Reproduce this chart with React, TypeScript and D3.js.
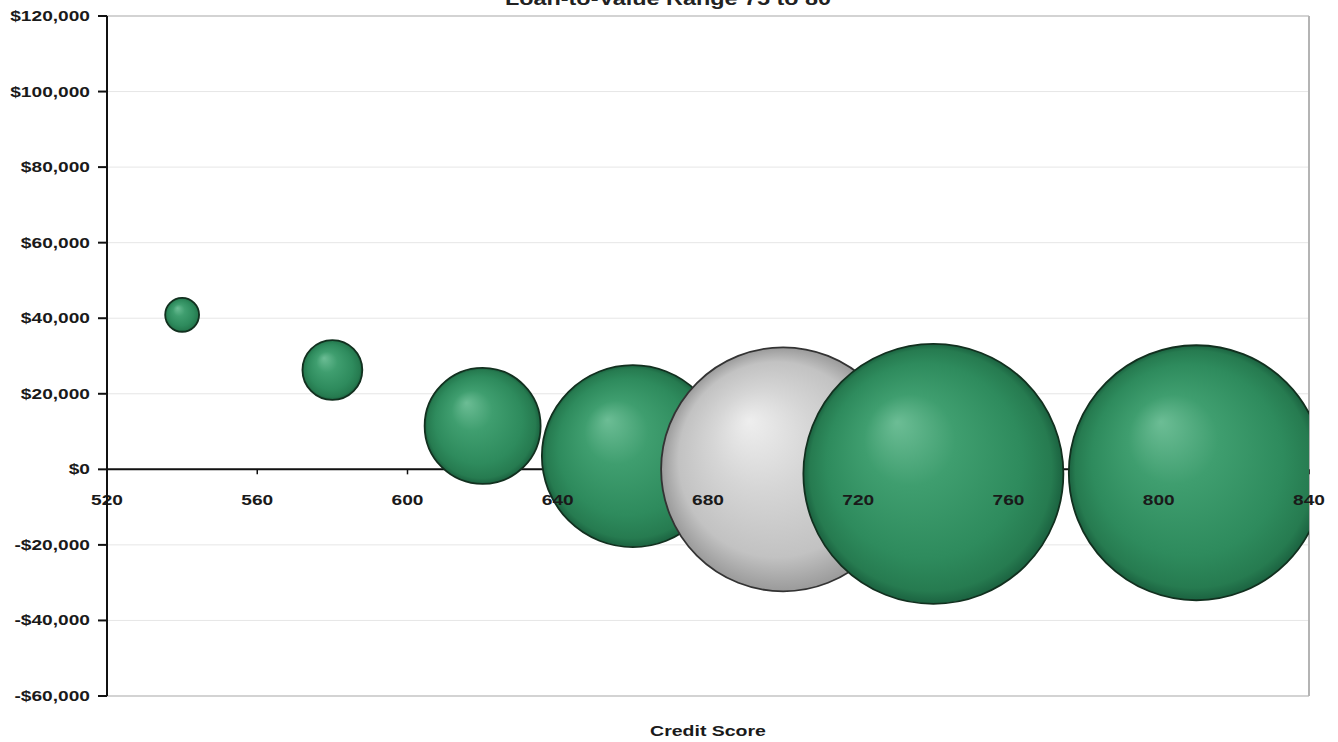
import React from "react";
import * as d3 from "d3";

// Average loss per loan by credit score band; bubble area = number of loans
const creditScores = [540, 580, 620, 660, 700, 740, 810];
const avgLoss = [40900, 26300, 11500, 3500, 0, -1200, -900];
const loanCounts = [170, 530, 1990, 4900, 8810, 10000, 9620];
const highlightScore = 700;

const xTicks = [520, 560, 600, 640, 680, 720, 760, 800, 840];
const yTicks = [-60000, -40000, -20000, 0, 20000, 40000, 60000, 80000, 100000, 120000];

const chartTitle = "Loan-to-Value Range 75 to 80";
const xTitle = "Credit Score";

const W = 1338;
const H = 742;
const left = 107;
const right = 1309;
const top = 16;
const bottom = 696;
const FONT = "'Liberation Sans', Arial, sans-serif";
const SX = 1.32;

const fmtMoney = (v: number) => (v < 0 ? "-$" : "$") + d3.format(",")(Math.abs(v));

export default function App() {
  const x = d3.scaleLinear().domain([520, 840]).range([left, right]);
  const y = d3.scaleLinear().domain([-60000, 120000]).range([bottom, top]);
  const r = d3.scaleSqrt().domain([0, 10000]).range([0, 130]);

  const bubbles = creditScores.map((s, i) => ({
    score: s,
    loss: avgLoss[i],
    count: loanCounts[i],
  }));

  const y0 = y(0);

  return (
    <svg
      width={W}
      height={H}
      style={{ position: "absolute", left: 0, top: 0, display: "block", background: "#fff" }}
    >
      <defs>
        <radialGradient id="gGreen" cx="50%" cy="50%" r="50%" fx="36%" fy="30%">
          <stop offset="0%" stopColor="#6cbd95" />
          <stop offset="35%" stopColor="#3f9e6f" />
          <stop offset="75%" stopColor="#2e8b5d" />
          <stop offset="93%" stopColor="#267b50" />
          <stop offset="100%" stopColor="#1b6240" />
        </radialGradient>
        <radialGradient id="gGray" cx="50%" cy="50%" r="50%" fx="36%" fy="30%">
          <stop offset="0%" stopColor="#eeeeee" />
          <stop offset="40%" stopColor="#d6d6d6" />
          <stop offset="80%" stopColor="#c2c2c2" />
          <stop offset="100%" stopColor="#9a9a9a" />
        </radialGradient>
        <clipPath id="plotClip">
          <rect x={left} y={top} width={right - left} height={bottom - top} />
        </clipPath>
      </defs>

      {/* horizontal gridlines */}
      {yTicks.map((t) => (
        <line
          key={"g" + t}
          x1={left}
          x2={right}
          y1={y(t)}
          y2={y(t)}
          stroke={t === 120000 || t === -60000 ? "#c4c4c4" : "#e6e6e6"}
          strokeWidth={t === 120000 || t === -60000 ? 1.5 : 1}
        />
      ))}
      {/* plot frame, right side */}
      <line x1={right} x2={right} y1={top} y2={bottom} stroke="#b4b4b4" strokeWidth={2} />

      {/* horizontal axis at zero */}
      <line x1={left} x2={right} y1={y0} y2={y0} stroke="#111" strokeWidth={2} />
      {xTicks.map((t) => (
        <line key={"xt" + t} x1={x(t)} x2={x(t)} y1={y0} y2={y0 + 5} stroke="#111" strokeWidth={1.5} />
      ))}

      {/* bubbles */}
      <g clipPath="url(#plotClip)">
        {bubbles.map((b) => (
          <circle
            key={b.score}
            cx={x(b.score)}
            cy={y(b.loss)}
            r={r(b.count)}
            fill={b.score === highlightScore ? "url(#gGray)" : "url(#gGreen)"}
            stroke={b.score === highlightScore ? "#333" : "#12301f"}
            strokeWidth={1.8}
          />
        ))}
      </g>

      {/* x tick labels drawn over the bubbles */}
      {xTicks.map((t) => (
        <g key={"xl" + t} transform={`translate(${x(t)},${y0 + 36}) scale(${SX},1)`}>
          <text
            textAnchor="middle"
            fontFamily={FONT}
            fontSize={14.5}
            fontWeight="bold"
            fill="#1a1a1a"
          >
            {t}
          </text>
        </g>
      ))}

      {/* vertical axis */}
      <line x1={left} x2={left} y1={top} y2={bottom} stroke="#111" strokeWidth={2} />
      {yTicks.map((t) => (
        <g key={"yt" + t}>
          <line x1={left - 9} x2={left} y1={y(t)} y2={y(t)} stroke="#111" strokeWidth={2} />
          <g transform={`translate(${left - 17},${y(t) + 5}) scale(${SX},1)`}>
            <text textAnchor="end" fontFamily={FONT} fontSize={14.5} fontWeight="bold" fill="#1a1a1a">
              {fmtMoney(t)}
            </text>
          </g>
        </g>
      ))}

      {/* titles */}
      <g transform={`translate(668,5) scale(1.3,1)`}>
        <text textAnchor="middle" fontFamily={FONT} fontSize={18} fontWeight="bold" fill="#222">
          {chartTitle}
        </text>
      </g>
      <g transform={`translate(708,736) scale(1.3,1)`}>
        <text textAnchor="middle" fontFamily={FONT} fontSize={15} fontWeight="bold" fill="#1a1a1a">
          {xTitle}
        </text>
      </g>
    </svg>
  );
}
